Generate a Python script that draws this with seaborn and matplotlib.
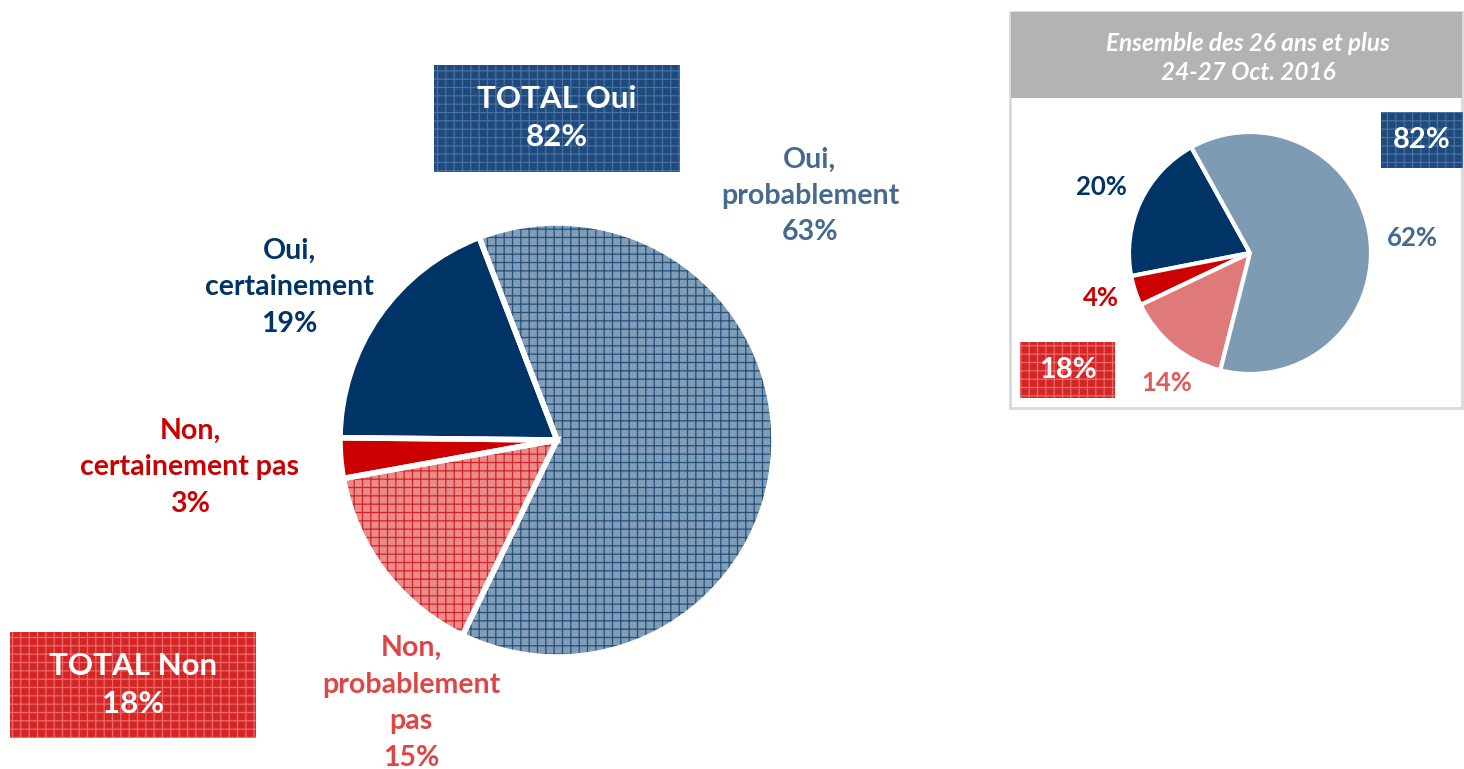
import matplotlib
matplotlib.use("Agg")
import matplotlib.pyplot as plt
from matplotlib.patches import Wedge, Rectangle
import seaborn as sns

# data
categories = ["Oui,\ncertainement", "Non,\ncertainement pas", "Non,\nprobablement\npas", "Oui,\nprobablement"]
values_main = [19, 3, 15, 63]
values_small = [20, 4, 14, 62]
total_labels = ["TOTAL Oui", "TOTAL Non"]
totals_main = [82, 18]
totals_small = [82, 18]
panel_title = "Ensemble des 26 ans et plus\n24-27 Oct. 2016"

sns.set_theme(style="white")
plt.rcParams['font.family'] = ['Lato', 'DejaVu Sans']
plt.rcParams['hatch.linewidth'] = 0.9

NAVY = "#003366"
STEEL = "#819CB7"
RED = "#CC0000"
PINK = "#EA8A8A"
fills = [NAVY, RED, PINK, STEEL]
hatches = [None, None, "#D42424", "#24507C"]
text_cols = [NAVY, RED, "#DE4646", "#46698F"]

W, H = 1464, 769
fig = plt.figure(figsize=(14.64, 7.69), dpi=100)
ax = fig.add_axes([0, 0, 1, 1])


def Y(p):
    return H - p


def hatched_rect(x0, y0, x1, y1, face, hcol):
    ax.add_patch(Rectangle((x0, Y(y1)), x1 - x0, y1 - y0, facecolor=face, lw=0, zorder=2))
    ax.add_patch(Rectangle((x0, Y(y1)), x1 - x0, y1 - y0, facecolor="none",
                           edgecolor=hcol, hatch="++", lw=0, zorder=3))


# main pie
wedges, _ = ax.pie(values_main, colors=fills, startangle=111, counterclock=True,
                   center=(557, Y(440)), radius=217,
                   wedgeprops=dict(edgecolor="white", linewidth=0))
for w, hc in zip(wedges, hatches):
    if hc:
        ax.add_patch(Wedge(w.center, w.r, w.theta1, w.theta2, facecolor="none",
                           edgecolor=hc, hatch="++", lw=0, zorder=w.get_zorder() + 0.1))
ax.pie(values_main, colors=["none"] * 4, startangle=111, counterclock=True,
       center=(557, Y(440)), radius=217,
       wedgeprops=dict(edgecolor="white", linewidth=4, zorder=5))

main_pos = [(289, 287), (190, 467), (411, 703), (810, 196)]
for cat, v, (x, y), c in zip(categories, values_main, main_pos, text_cols):
    ax.text(x, Y(y), f"{cat}\n{v}%", ha="center", va="center", color=c,
            fontsize=20.5, fontweight="bold", linespacing=1.5)

# total boxes
hatched_rect(434, 65, 680, 172, "#1E4A7E", "#4A70A0")
ax.text(557, Y(118), f"{total_labels[0]}\n{totals_main[0]}%", ha="center", va="center",
        color="white", fontsize=22.5, fontweight="bold", linespacing=1.45, zorder=6)
hatched_rect(10, 632, 256, 738, "#D42626", "#EE6A6A")
ax.text(133, Y(685), f"{total_labels[1]}\n{totals_main[1]}%", ha="center", va="center",
        color="white", fontsize=22.5, fontweight="bold", linespacing=1.45, zorder=6)

# side panel
ax.add_patch(Rectangle((1010, Y(408)), 452, 396, facecolor="white",
                       edgecolor="#D9D9D9", lw=2, zorder=1))
ax.add_patch(Rectangle((1011, Y(98)), 451, 86, facecolor="#B3B3B3", lw=0, zorder=2))
ax.text(1248, Y(58), panel_title, ha="center", va="center", color="white",
        fontsize=17.5, fontweight="bold", style="italic", linespacing=1.35, zorder=3)

small_fills = [NAVY, RED, "#E07A7A", "#7F9AB3"]
ax.pie(values_small, colors=small_fills, startangle=119, counterclock=True,
       center=(1250, Y(253)), radius=121,
       wedgeprops=dict(edgecolor="white", linewidth=3, zorder=4))

small_pos = [(1101, 187), (1101, 298), (1167, 383), (1412, 238)]
for v, (x, y), c in zip(values_small, small_pos, [NAVY, RED, "#E05A5A", "#46698F"]):
    ax.text(x, Y(y), f"{v}%", ha="center", va="center", color=c,
            fontsize=18.5, fontweight="bold", zorder=6)

hatched_rect(1381, 112, 1463, 168, "#1E4A7E", "#4A70A0")
ax.text(1422, Y(140), f"{totals_small[0]}%", ha="center", va="center", color="white",
        fontsize=21, fontweight="bold", zorder=6)
hatched_rect(1020, 342, 1115, 398, "#D42626", "#EE6A6A")
ax.text(1068, Y(370), f"{totals_small[1]}%", ha="center", va="center", color="white",
        fontsize=21, fontweight="bold", zorder=6)

ax.set_xlim(0, W)
ax.set_ylim(0, H)
ax.set_aspect("equal")
ax.axis("off")

fig.savefig("out.png", dpi=100, facecolor="white")
